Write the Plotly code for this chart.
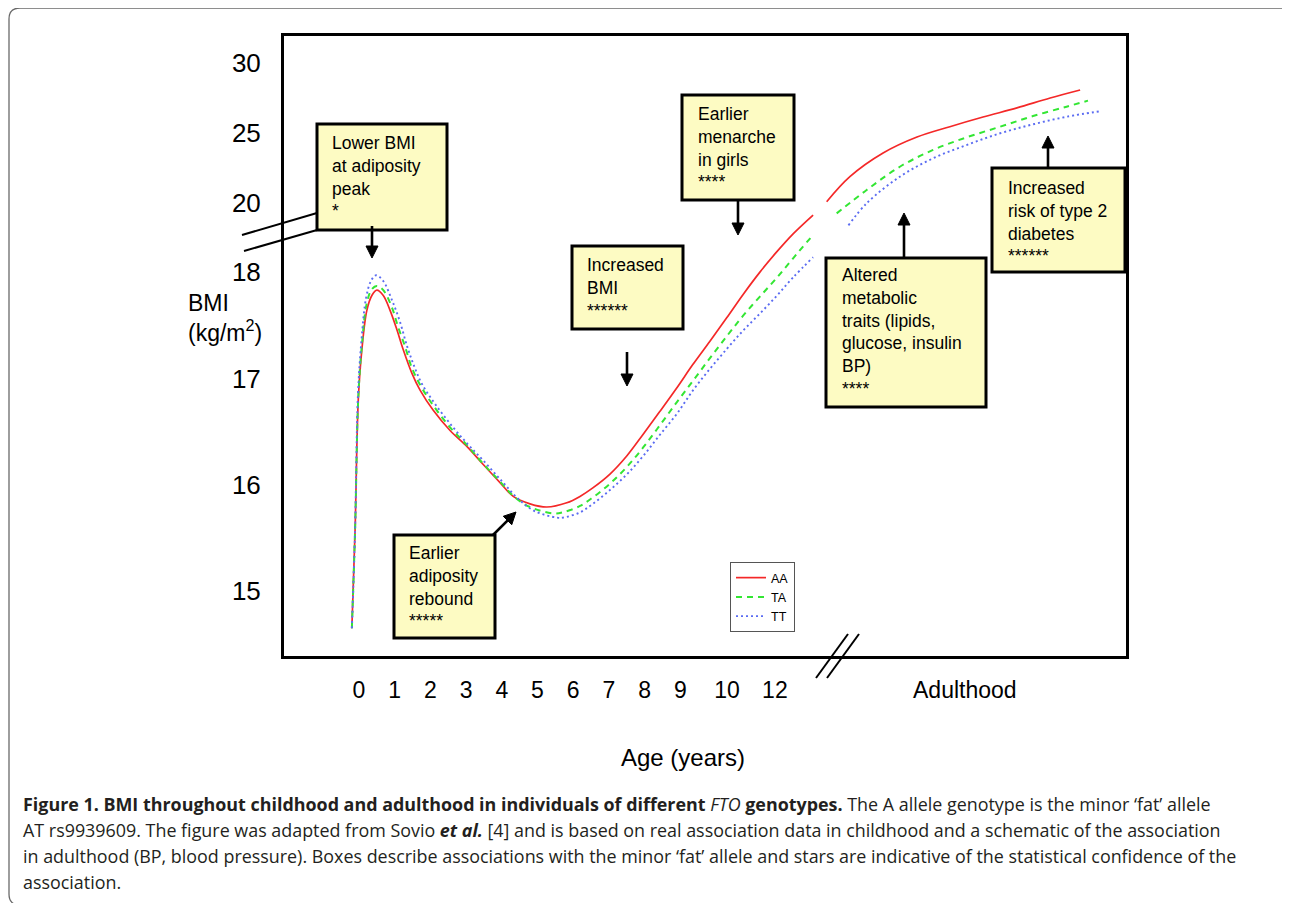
import math
import plotly.graph_objects as go

# ---------------- data ----------------
# childhood curves: age (years) and BMI (kg/m2)
aa_child_age = [-0.20, -0.11, -0.02, 0.08, 0.22, 0.36, 0.50, 0.68, 0.87, 1.06, 1.24, 1.48, 1.71, 2.08,
                2.55, 3.02, 3.48, 3.95, 4.32, 4.79, 5.26, 5.82, 6.19, 6.55, 7.03, 7.50, 7.95, 8.43,
                8.90, 9.35, 9.83, 10.30, 10.76, 11.23, 11.70, 12.16, 12.72]
aa_child_bmi = [14.65, 15.57, 16.80, 17.27, 17.64, 17.78, 17.83, 17.78, 17.64, 17.46, 17.27, 17.05, 16.89, 16.70,
                16.51, 16.36, 16.19, 16.02, 15.89, 15.82, 15.79, 15.83, 15.89, 15.97, 16.10, 16.27, 16.47, 16.69,
                16.91, 17.13, 17.35, 17.57, 17.79, 18.00, 18.19, 18.36, 19.14]

ta_child_age = [-0.20, -0.11, -0.02, 0.08, 0.22, 0.36, 0.50, 0.68, 0.92, 1.09, 1.29, 1.48, 1.71, 2.07,
                2.55, 3.03, 3.47, 3.95, 4.37, 4.79, 5.43, 5.71, 6.19, 6.55, 7.03, 7.51, 7.96, 8.43,
                8.91, 9.36, 9.83, 10.31, 10.76, 11.23, 11.71, 12.16, 12.72]
ta_child_bmi = [14.65, 15.57, 16.82, 17.31, 17.71, 17.84, 17.87, 17.83, 17.67, 17.49, 17.30, 17.10, 16.94, 16.75,
                16.54, 16.37, 16.20, 16.03, 15.88, 15.79, 15.73, 15.74, 15.80, 15.88, 16.01, 16.17, 16.35, 16.56,
                16.78, 16.98, 17.19, 17.40, 17.59, 17.77, 17.95, 18.13, 18.35]

tt_child_age = [-0.20, -0.11, -0.03, 0.07, 0.20, 0.34, 0.48, 0.67, 0.92, 1.15, 1.34, 1.54, 1.76, 2.13,
                2.61, 3.05, 3.53, 4.01, 4.45, 4.93, 5.55, 5.71, 6.19, 6.55, 7.03, 7.51, 7.96, 8.43,
                8.91, 9.36, 9.83, 10.31, 10.76, 11.23, 11.71, 12.16, 12.72]
tt_child_bmi = [14.65, 15.57, 16.84, 17.36, 17.76, 17.92, 17.97, 17.92, 17.74, 17.53, 17.31, 17.12, 16.95, 16.76,
                16.55, 16.38, 16.21, 16.03, 15.87, 15.75, 15.69, 15.69, 15.74, 15.82, 15.95, 16.10, 16.27, 16.47,
                16.67, 16.89, 17.09, 17.28, 17.45, 17.61, 17.78, 17.95, 18.14]

# adulthood (schematic): position along the adulthood segment of the x axis, BMI
aa_adult_pos = [13.10, 13.75, 14.68, 15.63, 16.55, 17.48, 18.43, 19.36, 20.20]
aa_adult_bmi = [20.09, 21.88, 23.57, 24.71, 25.45, 26.14, 26.79, 27.50, 28.07]
ta_adult_pos = [13.38, 14.22, 15.15, 16.08, 17.02, 17.96, 18.88, 19.82, 20.42]
ta_adult_bmi = [19.26, 20.93, 22.59, 23.79, 24.69, 25.45, 26.21, 26.88, 27.31]
tt_adult_pos = [13.71, 14.22, 15.15, 16.08, 17.02, 17.96, 18.88, 19.82, 20.80]
tt_adult_bmi = [18.44, 19.98, 21.88, 23.19, 24.14, 24.98, 25.62, 26.16, 26.57]

genotypes = ["AA", "TA", "TT"]

# axis ticks
y_tick_bmi = [15, 16, 17, 18, 20, 25, 30]
y_tick_text = ["15", "16", "17", "18", "20", "25", "30"]
x_tick_pos = [0, 1, 2, 3, 4, 5, 6, 7, 8, 9, 10.31, 11.65, 16.97]
x_tick_text = ["0", "1", "2", "3", "4", "5", "6", "7", "8", "9", "10", "12", "Adulthood"]

# ---------------- broken BMI axis: 15-18 expanded, 20-30 compressed ----------------
U20 = (591 - 203) / 106.3
K = 14 / 106.3
BREAK = (15 + U20 - 20 * K) / (1 - K)


def yu(b):
    return b - 15 if b <= BREAK else U20 + (b - 20) * K


# page body has an 8px margin: figure is drawn 8px in from the window corner
OFF = 8
W, H = 1290 - OFF, 903 - OFF
L, R, T, B = 284, 1126, 36, 656   # plot frame in window pixels


def px(x):
    return (x - L) / (R - L)


def py(y):
    return (B - y) / (B - T)


FONT = "Liberation Sans, Arial, Helvetica, sans-serif"
colors = {"AA": "#f42828", "TA": "#33e633", "TT": "#5b6cf2"}
dashes = {"AA": "solid", "TA": "6px,5px", "TT": "2px,3px"}
widths = {"AA": 1.7, "TA": 2.0, "TT": 1.9}

fig = go.Figure()
child = {"AA": (aa_child_age, aa_child_bmi), "TA": (ta_child_age, ta_child_bmi),
         "TT": (tt_child_age, tt_child_bmi)}
adult = {"AA": (aa_adult_pos, aa_adult_bmi), "TA": (ta_adult_pos, ta_adult_bmi),
         "TT": (tt_adult_pos, tt_adult_bmi)}
for g in genotypes:
    xs, bs = child[g]
    fig.add_trace(go.Scatter(x=xs, y=[yu(b) for b in bs], mode="lines", name=g,
                             line=dict(color=colors[g], dash=dashes[g], width=widths[g],
                                       shape="spline", smoothing=1.0),
                             legendgroup=g, showlegend=True))
for g in genotypes:
    xs, bs = adult[g]
    fig.add_trace(go.Scatter(x=xs, y=[yu(b) for b in bs], mode="lines", name=g,
                             line=dict(color=colors[g], dash=dashes[g], width=widths[g],
                                       shape="spline", smoothing=1.0),
                             legendgroup=g, showlegend=False))

shapes = []
annotations = []

# outer rounded frame
r = 11
x0, y0, x1, y1 = 9, 8, 1293, 905
path = (f"M {px(x0)},{py(y0 + r)} Q {px(x0)},{py(y0)} {px(x0 + r)},{py(y0)} "
        f"L {px(x1 - r)},{py(y0)} Q {px(x1)},{py(y0)} {px(x1)},{py(y0 + r)} "
        f"L {px(x1)},{py(y1 - r)} Q {px(x1)},{py(y1)} {px(x1 - r)},{py(y1)} "
        f"L {px(x0 + r)},{py(y1)} Q {px(x0)},{py(y1)} {px(x0)},{py(y1 - r)} Z")
shapes.append(dict(type="path", xref="paper", yref="paper", path=path,
                   line=dict(color="#6a6a6a", width=1.3), layer="below"))

# axis break marks
for (a, b, c, d) in [(242, 235, 317, 213), (244, 251, 317, 230),
                     (816, 678, 848, 634), (827, 678, 859, 634)]:
    shapes.append(dict(type="line", xref="paper", yref="paper",
                       x0=px(a), y0=py(b), x1=px(c), y1=py(d),
                       line=dict(color="black", width=2)))

# annotation boxes: (left, top, right, bottom, text_left, text_top, lines, stars)
boxes = [
    (317, 124, 447, 230, 330, 131, ["Lower BMI", "at adiposity", "peak"], "*"),
    (572, 246, 683, 329, 585, 253, ["Increased", "BMI"], "******"),
    (682, 95, 794, 200, 696, 102, ["Earlier", "menarche", "in girls"], "****"),
    (826, 258, 986, 407, 840, 263, ["Altered", "metabolic", "traits (lipids,", "glucose, insulin", "BP)"], "****"),
    (992, 168, 1125, 272, 1006, 176, ["Increased", "risk of type 2", "diabetes"], "******"),
    (394, 535, 495, 638, 407, 541, ["Earlier", "adiposity", "rebound"], "*****"),
]
for (l, t, rr, bb, tl, tt, lines, stars) in boxes:
    shapes.append(dict(type="rect", xref="paper", yref="paper",
                       x0=px(l), y0=py(bb), x1=px(rr), y1=py(t),
                       fillcolor="#fdfbc3", line=dict(color="black", width=3)))
    txt = "<br>".join(lines + [stars])
    annotations.append(dict(xref="paper", yref="paper", x=px(tl), y=py(tt),
                            xanchor="left", yanchor="top", align="left", showarrow=False,
                            text=txt, font=dict(family=FONT, size=17.5, color="black")))

# arrows as shapes: (tail_x, tail_y, head_x, head_y)
arrows = [(372, 226, 372, 258), (627, 352, 627, 386), (738, 200, 738, 235),
          (904, 258, 904, 213), (1048, 168, 1048, 136), (493, 535, 516, 512)]
HL, HW = 12, 6
for (tx, ty, hx, hy) in arrows:
    dx, dy = hx - tx, hy - ty
    n = math.hypot(dx, dy)
    ux, uy = dx / n, dy / n
    bx, by = hx - ux * HL, hy - uy * HL
    shapes.append(dict(type="line", xref="paper", yref="paper",
                       x0=px(tx), y0=py(ty), x1=px(bx + ux * 2), y1=py(by + uy * 2),
                       line=dict(color="black", width=2.6)))
    p1 = (bx - uy * HW, by + ux * HW)
    p2 = (bx + uy * HW, by - ux * HW)
    shapes.append(dict(type="path", xref="paper", yref="paper",
                       path=f"M {px(hx)},{py(hy)} L {px(p1[0])},{py(p1[1])} L {px(p2[0])},{py(p2[1])} Z",
                       fillcolor="black", line=dict(color="black", width=1)))

# y axis title
annotations.append(dict(xref="paper", yref="paper", x=px(186), y=py(318), xanchor="left",
                        yanchor="middle", align="left", showarrow=False,
                        text="BMI<br>(kg/m<sup>2</sup>)",
                        font=dict(family=FONT, size=23, color="black")))
# x axis title
annotations.append(dict(xref="paper", yref="paper", x=px(683), y=py(757), xanchor="center",
                        yanchor="middle", showarrow=False, text="Age (years)",
                        font=dict(family=FONT, size=24, color="black")))

# caption
CAP = "Open Sans, Noto Sans, sans-serif"
caption_lines = [
    "<b>Figure 1. BMI throughout childhood and adulthood in individuals of different </b><i>FTO</i>"
    "<b> genotypes.</b> The A allele genotype is the minor ‘fat’ allele",
    "AT rs9939609. The figure was adapted from Sovio <b><i>et al.</i></b> [4] and is based on real "
    "association data in childhood and a schematic of the association",
    "in adulthood (BP, blood pressure). Boxes describe associations with the minor ‘fat’ allele and "
    "stars are indicative of the statistical confidence of the",
    "association.",
]
for i, line in enumerate(caption_lines):
    annotations.append(dict(xref="paper", yref="paper", x=px(21), y=py(804 + 26 * i),
                            xanchor="left", yanchor="middle", align="left", showarrow=False,
                            text=line, font=dict(family=CAP, size=17.9, color="#231f20")))

fig.update_layout(
    width=W, height=H,
    margin=dict(l=L - OFF, r=W - (R - OFF), t=T - OFF, b=H - (B - OFF), pad=0),
    paper_bgcolor="white", plot_bgcolor="white",
    shapes=shapes, annotations=annotations,
    showlegend=True,
    legend=dict(x=px(730), y=py(562), xanchor="left", yanchor="top",
                bgcolor="white", bordercolor="#555555", borderwidth=1,
                font=dict(family=FONT, size=12.5, color="black"),
                itemwidth=30, tracegroupgap=0, traceorder="normal"),
    xaxis=dict(range=[(L - 359) / 35.7, (R - 359) / 35.7], tickmode="array",
               tickvals=x_tick_pos, ticktext=x_tick_text, ticks="", showgrid=False,
               zeroline=False, showline=True, mirror=True, linewidth=3, linecolor="black",
               tickfont=dict(family=FONT, size=23, color="black"), ticklabelstandoff=11),
    yaxis=dict(range=[(591 - B) / 106.3, (591 - T) / 106.3], tickmode="array",
               tickvals=[yu(v) for v in y_tick_bmi], ticktext=y_tick_text, ticks="",
               showgrid=False, zeroline=False, showline=True, mirror=True, linewidth=3,
               linecolor="black", tickfont=dict(family=FONT, size=26, color="black"),
               ticklabelstandoff=15),
)

fig.write_html("out.html")
